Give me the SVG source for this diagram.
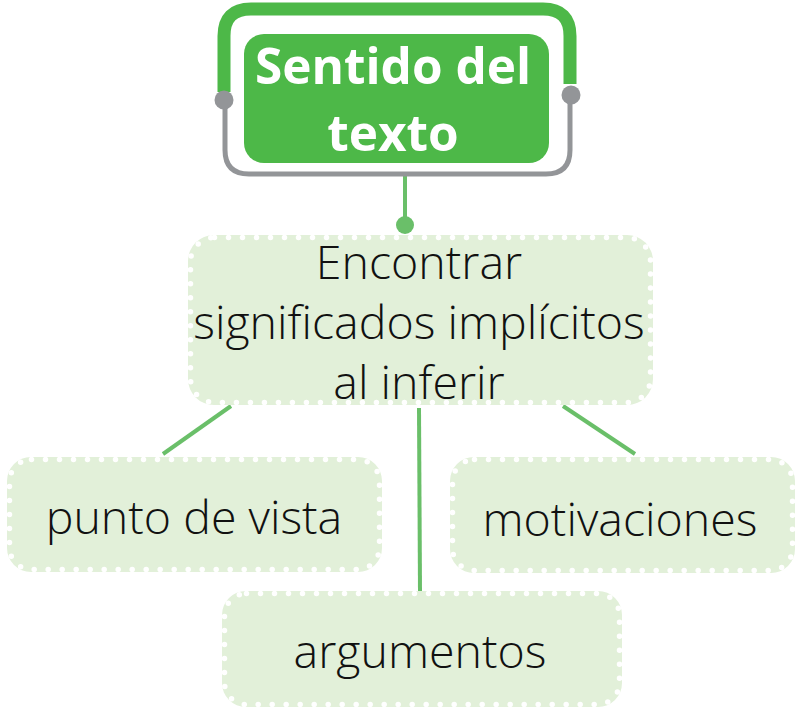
<svg xmlns="http://www.w3.org/2000/svg" width="800" height="713" viewBox="0 0 800 713">
<defs>
<style>
.box{fill:#e2f0d9}
.dots{fill:none;stroke:#ffffff;stroke-width:5.5;stroke-linecap:round;stroke-dasharray:0 14}
.lt{font-family:"Open Sans","Noto Sans",sans-serif;font-weight:300;fill:#111111;text-anchor:middle;font-size:46.5px}
.bt{font-family:"Open Sans","Noto Sans",sans-serif;font-weight:700;fill:#ffffff;text-anchor:middle;font-size:49.5px}
.con{stroke:#6abf69;stroke-width:4;fill:none}
</style>
</defs>
<rect width="800" height="713" fill="#ffffff"/>
<g id="connectors">
<line class="con" x1="405" y1="176" x2="405" y2="222"/>
<circle cx="405" cy="225" r="9" fill="#6abf69"/>
<line class="con" x1="231" y1="406" x2="163" y2="454"/>
<line class="con" x1="419" y1="408" x2="420" y2="592"/>
<line class="con" x1="563" y1="406" x2="635" y2="454"/>
</g>
<g id="node-sentido">
<path d="M224 92 V36 Q224 9 251 9 H543 Q570 9 570 36 V84" fill="none" stroke="#4db848" stroke-width="13"/>
<path d="M225 100 V150 Q225 174 249 174 H546 Q570 174 570 150 V96" fill="none" stroke="#939598" stroke-width="5"/>
<circle cx="224" cy="100" r="9.5" fill="#939598"/>
<circle cx="571" cy="95" r="9.5" fill="#939598"/>
<rect x="244" y="34" width="305" height="129" rx="20" fill="#4db848"/>
<text class="bt" x="393" y="84">Sentido del</text>
<text class="bt" x="393" y="151">texto</text>
</g>
<g id="node-encontrar">
<rect class="box" x="188" y="235" width="465" height="170" rx="26"/>
<rect class="dots" x="190.5" y="237.5" width="460" height="165" rx="24"/>
<text class="lt" x="419" y="279">Encontrar</text>
<text class="lt" x="419" y="339">significados implícitos</text>
<text class="lt" x="419" y="399">al inferir</text>
</g>
<g id="node-punto">
<rect class="box" x="7" y="457" width="375" height="115" rx="24"/>
<rect class="dots" x="9.5" y="459.5" width="370" height="110" rx="22"/>
<text class="lt" x="194" y="534">punto de vista</text>
</g>
<g id="node-motivaciones">
<rect class="box" x="450" y="457" width="345" height="116" rx="24"/>
<rect class="dots" x="452.5" y="459.5" width="340" height="111" rx="22"/>
<text class="lt" x="620" y="536">motivaciones</text>
</g>
<g id="node-argumentos">
<rect class="box" x="222" y="591" width="400" height="116" rx="24"/>
<rect class="dots" x="224.5" y="593.5" width="395" height="111" rx="22"/>
<text class="lt" x="420" y="668">argumentos</text>
</g>
</svg>
